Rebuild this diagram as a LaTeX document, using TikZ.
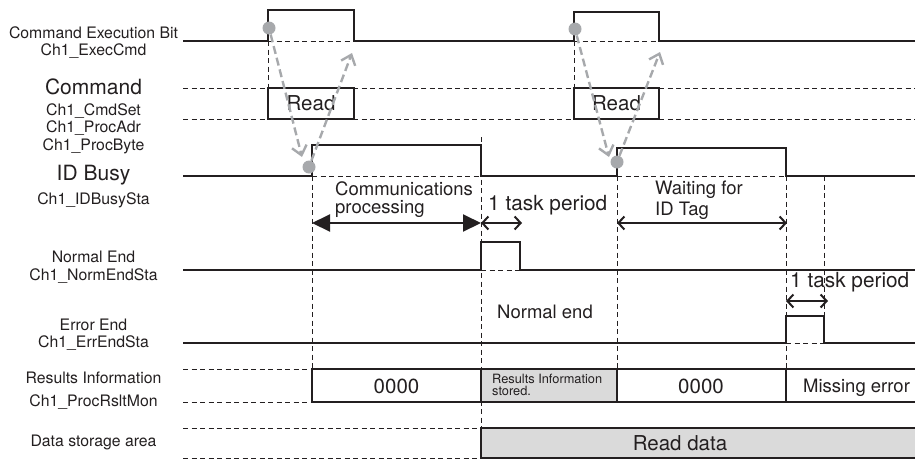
\documentclass[tikz,border=0pt]{standalone}
\usepackage{fontspec}
\setmainfont{TeX Gyre Heros}
\usepackage{xcolor}
\usepackage{tikz}
\usetikzlibrary{arrows.meta,positioning,calc}
\definecolor{markgray}{RGB}{167,169,172}
\definecolor{fillgray}{RGB}{218,218,218}
\definecolor{inkblack}{RGB}{35,31,32}
\tikzstyle{sigline} = [line width=2pt,draw=inkblack,line join=miter]

\begin{document}
\begin{tikzpicture}[x=1pt,y=-1pt,
    lbl/.style={font=\fontsize{15.8}{17}\selectfont, anchor=base, inner sep=0pt, text=inkblack},
    biglbl/.style={font=\fontsize{21}{23}\selectfont, anchor=base, inner sep=0pt, text=inkblack},
    remark/.style={font=\fontsize{18.5}{20}\selectfont, anchor=base west, inner sep=0pt, text=inkblack},
    cellnum/.style={font=\fontsize{20.5}{22}\selectfont, anchor=base, inner sep=0pt, text=inkblack},
    tinytext/.style={font=\fontsize{12.8}{13}\selectfont, anchor=base west, inner sep=0pt, text=inkblack},
    guideline/.style={line width=0.8pt, dash pattern=on 5pt off 3.5pt, draw=inkblack},
    flowarrow/.style={line width=2.4pt, draw=markgray, dash pattern=on 8pt off 4pt,
                      -{Straight Barb[length=9pt,width=15pt]}},
    dimarrow/.style={line width=2pt, draw=inkblack,
                     {Straight Barb[length=6pt,width=13pt]}-{Straight Barb[length=6pt,width=13pt]}},
    bigdim/.style={line width=2pt, draw=inkblack,
                   {Triangle[length=18pt,width=17pt]}-{Triangle[length=18pt,width=17pt]}},
    probe/.style={circle, fill=markgray, inner sep=0pt, minimum size=13pt}
]
\useasboundingbox (0,0) rectangle (915,459);

% signal names
\node[lbl] (execname) at (93.5,38) {Command Execution Bit};
\node[lbl] (execvar) at (93.5,55) {Ch1\_ExecCmd};
\node[biglbl] (cmdname) at (93.5,94.5) {Command};
\node[lbl] (cmdvar1) at (93.5,115) {Ch1\_CmdSet};
\node[lbl] (cmdvar2) at (93.5,132) {Ch1\_ProcAdr};
\node[lbl] (cmdvar3) at (93.5,150) {Ch1\_ProcByte};
\node[biglbl] (busyname) at (93.5,180) {ID Busy};
\node[lbl] (busyvar) at (93.5,204.5) {Ch1\_IDBusySta};
\node[lbl] (normname) at (93.5,262) {Normal End};
\node[lbl] (normvar) at (93.5,280) {Ch1\_NormEndSta};
\node[lbl] (errname) at (93.5,330) {Error End};
\node[lbl] (errvar) at (93.5,347.5) {Ch1\_ErrEndSta};
\node[lbl] (rsltname) at (93.5,383.5) {Results Information};
\node[lbl] (rsltvar) at (93.5,406.5) {Ch1\_ProcRsltMon};
\node[lbl] (dataname) at (93.5,446) {Data storage area};

% dashed guides
\draw[guideline] (268,41) -- (354,41);
\draw[guideline] (574,41) -- (659,41);
\draw[guideline] (183,88) -- (915,88);
\draw[guideline] (183,119) -- (915,119);
\draw[guideline] (312,176) -- (481,176);
\draw[guideline] (617,176) -- (786,176);
\draw[guideline] (481,270) -- (520,270);
\draw[guideline] (786,343) -- (824,343);
\draw[guideline] (183,369) -- (312,369);
\draw[guideline] (183,402) -- (312,402);
\draw[guideline] (183,428) -- (481,428);
\draw[guideline] (183,458) -- (481,458);
\draw[guideline] (268,41) -- (268,88);
\draw[guideline] (574,41) -- (574,88);
\draw[guideline] (312,176) -- (312,369);
\draw[guideline] (481,137) -- (481,428);
\draw[guideline] (617,176) -- (617,369);
\draw[guideline] (786,176) -- (786,369);
\draw[guideline] (824,176) -- (824,316);

% waveforms
\draw[sigline] (183,41) -- (268,41) -- (268,10) -- (354,10) -- (354,41) -- (574,41)
  -- (574,12) -- (659,12) -- (659,41) -- (915,41);
\draw[sigline] (268,88) rectangle (354,119);
\draw[sigline] (574,88) rectangle (659,119);
\draw[sigline] (183,176) -- (312,176) -- (312,145) -- (481,145) -- (481,176) -- (617,176)
  -- (617,148) -- (786,148) -- (786,176) -- (915,176);
\draw[sigline] (183,270) -- (481,270) -- (481,242) -- (520,242) -- (520,270) -- (915,270);
\draw[sigline] (183,343) -- (786,343) -- (786,316) -- (824,316) -- (824,343) -- (915,343);

% results and data rows
\fill[fillgray] (481,369) rectangle (617,402);
\draw[sigline] (915,369) -- (312,369) -- (312,402) -- (915,402);
\draw[sigline] (481,369) -- (481,402);
\draw[sigline] (617,369) -- (617,402);
\draw[sigline] (786,369) -- (786,402);
\fill[fillgray] (481,428) rectangle (915,458);
\draw[sigline] (915,428) -- (481,428) -- (481,458) -- (915,458);

% texts in the rows
\node[cellnum] (read1) at (311,110) {Read};
\node[cellnum] (read2) at (616.5,110) {Read};
\node[cellnum] (zero1) at (396.5,393) {0000};
\node[cellnum] (zero2) at (701,393) {0000};
\node[tinytext] (stored1) at (492,383) {Results Information};
\node[tinytext] (stored2) at (492,395) {stored.};
\node[remark, anchor=base] (missing) at (856.5,392) {Missing error};
\node[cellnum] (readdata) at (680,450) {Read data};

% durations
\node[remark] (comm1) at (335,195) {Communications};
\node[remark] (comm2) at (335,213) {processing};
\node[remark, font=\fontsize{20.8}{22}\selectfont] (task1) at (488,210) {1 task period};
\node[remark] (wait1) at (655,194) {Waiting for};
\node[remark] (wait2) at (655,215) {ID Tag};
\node[remark] (normend) at (497,318) {Normal end};
\node[remark, font=\fontsize{20.8}{22}\selectfont] (task2) at (790,287) {1 task period};
\coordinate (commA) at (312,223);
\coordinate (commB) at (481,223);
\coordinate (taskA) at (481,223);
\coordinate (taskB) at (522,223);
\coordinate (waitA) at (617,223);
\coordinate (waitB) at (787,223);
\coordinate (errA) at (786,301);
\coordinate (errB) at (828,301);
\draw[bigdim] (commA) -- (commB);
\draw[dimarrow] (taskA) -- (taskB);
\draw[dimarrow] (waitA) -- (waitB);
\draw[dimarrow] (errA) -- (errB);

% handshake
\node[probe] (p1) at (269,28) {};
\node[probe] (p2) at (309,167) {};
\node[probe] (p3) at (575,29) {};
\node[probe] (p4) at (617,162) {};
\coordinate (down1) at (302,157);
\coordinate (up1) at (352,53);
\coordinate (down2) at (609,157);
\coordinate (up2) at (660,52);
\draw[flowarrow] (p1) -- (down1);
\draw[flowarrow] (p2) -- (up1);
\draw[flowarrow] (p3) -- (down2);
\draw[flowarrow] (p4) -- (up2);
\end{tikzpicture}
\end{document}
